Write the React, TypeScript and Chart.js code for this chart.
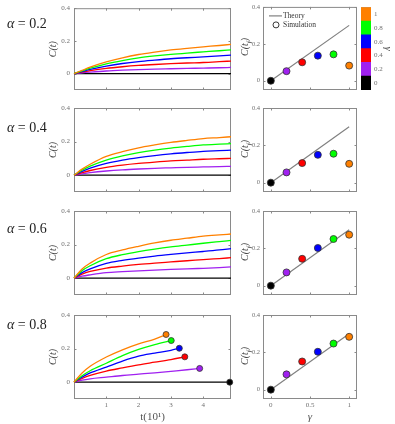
import React, { useEffect, useRef } from 'react';
import { Chart, registerables } from 'chart.js';

Chart.register(...registerables);

const PAGE_W = 395;
const PAGE_H = 424;

// ---------------- data ----------------
const gammaLabels = ['0', '0.2', '0.4', '0.6', '0.8', '1'];
const gammaValues = [0, 0.2, 0.4, 0.6, 0.8, 1];
const gammaColors = ['#000000', '#A020F0', '#FF0000', '#0000FF', '#00FF00', '#FF8000'];
const alphaLabels = ['0.2', '0.4', '0.6', '0.8'];

const timeTicks = [1, 2, 3, 4];
const gammaTicks = [0, 0.5, 1];
const cTicks = [0, 0.2, 0.4];
const legendLabels = ['Theory', 'Simulation'];

const tGrid = [0, 0.25, 0.5, 1, 1.5, 2, 2.5, 3, 3.5, 4, 4.5, 4.86];

// alpha = 0.2
const a02Black = [0, 0, 0, 0, 0, 0, 0, 0, 0, 0, 0, 0];
const a02Purple = [0, 0.005, 0.009, 0.016, 0.021, 0.025, 0.028, 0.03, 0.032, 0.034, 0.036, 0.038];
const a02Red = [0, 0.009, 0.018, 0.032, 0.042, 0.05, 0.056, 0.061, 0.065, 0.068, 0.073, 0.077];
const a02Blue = [0, 0.013, 0.026, 0.046, 0.062, 0.074, 0.083, 0.091, 0.097, 0.102, 0.108, 0.113];
const a02Green = [0, 0.017, 0.033, 0.06, 0.08, 0.096, 0.108, 0.118, 0.126, 0.133, 0.14, 0.145];
const a02Orange = [0, 0.02, 0.04, 0.072, 0.097, 0.117, 0.132, 0.145, 0.155, 0.164, 0.172, 0.179];

// alpha = 0.4
const a04Black = [0, 0, 0, 0, 0, 0, 0, 0, 0, 0, 0, 0];
const a04Purple = [0, 0.008, 0.015, 0.025, 0.032, 0.037, 0.041, 0.044, 0.047, 0.049, 0.051, 0.053];
const a04Red = [0, 0.015, 0.028, 0.047, 0.06, 0.07, 0.078, 0.085, 0.09, 0.095, 0.098, 0.1];
const a04Blue = [0, 0.023, 0.042, 0.07, 0.09, 0.105, 0.117, 0.127, 0.135, 0.142, 0.146, 0.149];
const a04Green = [0, 0.03, 0.054, 0.09, 0.115, 0.134, 0.149, 0.161, 0.171, 0.18, 0.185, 0.188];
const a04Orange = [0, 0.036, 0.065, 0.112, 0.14, 0.163, 0.18, 0.195, 0.207, 0.218, 0.224, 0.229];

// alpha = 0.6
const a06Black = [0, 0, 0, 0, 0, 0, 0, 0, 0, 0, 0, 0];
const a06Purple = [0, 0.012, 0.02, 0.033, 0.039, 0.044, 0.048, 0.052, 0.055, 0.059, 0.063, 0.067];
const a06Red = [0, 0.024, 0.04, 0.06, 0.072, 0.082, 0.09, 0.097, 0.104, 0.11, 0.117, 0.122];
const a06Blue = [0, 0.033, 0.055, 0.088, 0.106, 0.12, 0.132, 0.142, 0.151, 0.159, 0.168, 0.176];
const a06Green = [0, 0.045, 0.074, 0.116, 0.14, 0.158, 0.173, 0.186, 0.197, 0.208, 0.218, 0.225];
const a06Orange = [0, 0.055, 0.09, 0.141, 0.168, 0.19, 0.21, 0.226, 0.238, 0.25, 0.258, 0.263];

// alpha = 0.8 (each series stops at its own final time)
const a08BlackT = [0, 4.82];
const a08Black = [0, 0];
const a08PurpleT = [0, 0.25, 0.5, 1, 1.5, 2, 2.5, 3, 3.5, 3.89];
const a08Purple = [0, 0.012, 0.02, 0.03, 0.04, 0.048, 0.056, 0.065, 0.074, 0.082];
const a08RedT = [0, 0.25, 0.5, 1, 1.5, 2, 2.5, 3, 3.43];
const a08Red = [0, 0.022, 0.04, 0.066, 0.085, 0.103, 0.119, 0.135, 0.151];
const a08BlueT = [0, 0.25, 0.5, 1, 1.5, 2, 2.5, 3, 3.26];
const a08Blue = [0, 0.03, 0.055, 0.09, 0.126, 0.155, 0.173, 0.19, 0.202];
const a08GreenT = [0, 0.25, 0.5, 1, 1.5, 2, 2.5, 3.01];
const a08Green = [0, 0.038, 0.068, 0.113, 0.158, 0.195, 0.224, 0.248];
const a08OrangeT = [0, 0.25, 0.5, 1, 1.5, 2, 2.5, 2.85];
const a08Orange = [0, 0.055, 0.095, 0.15, 0.193, 0.228, 0.257, 0.284];

// simulation C(t_f) vs gamma for each alpha
const sim02 = [0, 0.052, 0.1, 0.136, 0.143, 0.082];
const sim04 = [0, 0.055, 0.105, 0.149, 0.155, 0.101];
const sim06 = [0, 0.071, 0.144, 0.202, 0.25, 0.273];
const sim08 = [0, 0.082, 0.151, 0.203, 0.247, 0.283];

const theoryGamma = [0, 1];
const theoryC = [0, 0.3];

// ---------------- layout ----------------
const rowTops = [6, 108, 211, 315];
const rowH = 84;
const leftBox = [74, 231];
const rightBox = [263, 357];
const cbarBox = [361, 371, 6, 90];
const alphaLabelY = [24, 128, 229, 325];

const FRAME = '#8a8a8a';
const TICKTXT = '#707070';
const SERIF = '"Liberation Serif", "DejaVu Serif", serif';

type Series = { t: number[]; c: number[]; color: string; end?: boolean };

const leftSeries: Series[][] = [
  [
    { t: tGrid, c: a02Orange, color: gammaColors[5] },
    { t: tGrid, c: a02Green, color: gammaColors[4] },
    { t: tGrid, c: a02Blue, color: gammaColors[3] },
    { t: tGrid, c: a02Red, color: gammaColors[2] },
    { t: tGrid, c: a02Purple, color: gammaColors[1] },
    { t: tGrid, c: a02Black, color: gammaColors[0] },
  ],
  [
    { t: tGrid, c: a04Orange, color: gammaColors[5] },
    { t: tGrid, c: a04Green, color: gammaColors[4] },
    { t: tGrid, c: a04Blue, color: gammaColors[3] },
    { t: tGrid, c: a04Red, color: gammaColors[2] },
    { t: tGrid, c: a04Purple, color: gammaColors[1] },
    { t: tGrid, c: a04Black, color: gammaColors[0] },
  ],
  [
    { t: tGrid, c: a06Orange, color: gammaColors[5] },
    { t: tGrid, c: a06Green, color: gammaColors[4] },
    { t: tGrid, c: a06Blue, color: gammaColors[3] },
    { t: tGrid, c: a06Red, color: gammaColors[2] },
    { t: tGrid, c: a06Purple, color: gammaColors[1] },
    { t: tGrid, c: a06Black, color: gammaColors[0] },
  ],
  [
    { t: a08OrangeT, c: a08Orange, color: gammaColors[5], end: true },
    { t: a08GreenT, c: a08Green, color: gammaColors[4], end: true },
    { t: a08BlueT, c: a08Blue, color: gammaColors[3], end: true },
    { t: a08RedT, c: a08Red, color: gammaColors[2], end: true },
    { t: a08PurpleT, c: a08Purple, color: gammaColors[1], end: true },
    { t: a08BlackT, c: a08Black, color: gammaColors[0], end: true },
  ],
];
const simSeries = [sim02, sim04, sim06, sim08];

// ---------------- plugins ----------------
const frameTicksPlugin = {
  id: 'frameTicks',
  beforeDatasetsDraw(chart: any) {
    const o = chart.options.plugins.frameTicks;
    if (!o) return;
    const { ctx, chartArea: a } = chart;
    ctx.save();
    ctx.strokeStyle = FRAME;
    ctx.lineWidth = 1;
    ctx.strokeRect(a.left + 0.5, a.top + 0.5, a.right - a.left - 1, a.bottom - a.top - 1);
    if (!o.noTicks) {
      const len = 2.5;
      ctx.beginPath();
      const xs = chart.scales.x;
      xs.ticks.forEach((t: any) => {
        const p = Math.round(xs.getPixelForValue(t.value)) + 0.5;
        ctx.moveTo(p, a.bottom);
        ctx.lineTo(p, a.bottom - len);
        ctx.moveTo(p, a.top);
        ctx.lineTo(p, a.top + len);
      });
      const ys = chart.scales.y;
      ys.ticks.forEach((t: any) => {
        const p = Math.round(ys.getPixelForValue(t.value)) + 0.5;
        ctx.moveTo(a.left, p);
        ctx.lineTo(a.left + len, p);
        ctx.moveTo(a.right, p);
        ctx.lineTo(a.right - len, p);
      });
      ctx.stroke();
    }
    ctx.restore();
  },
};

const innerLegendPlugin = {
  id: 'innerLegend',
  afterDatasetsDraw(chart: any) {
    const o = chart.options.plugins.innerLegend;
    if (!o || !o.show) return;
    const { ctx, chartArea: a } = chart;
    ctx.save();
    const y1 = a.top + 9;
    const y2 = a.top + 18;
    ctx.strokeStyle = '#808080';
    ctx.lineWidth = 1.2;
    ctx.beginPath();
    ctx.moveTo(a.left + 6, y1);
    ctx.lineTo(a.left + 19, y1);
    ctx.stroke();
    ctx.strokeStyle = '#222';
    ctx.lineWidth = 0.9;
    ctx.beginPath();
    ctx.arc(a.left + 13, y2, 3, 0, Math.PI * 2);
    ctx.stroke();
    ctx.fillStyle = '#333';
    ctx.font = '7.5px ' + SERIF;
    ctx.textBaseline = 'middle';
    ctx.fillText(legendLabels[0], a.left + 20, y1);
    ctx.fillText(legendLabels[1], a.left + 20, y2);
    ctx.restore();
  },
};

const tickFont = { family: SERIF, size: 7 };
const smallTickFont = { family: SERIF, size: 6.5 };
const noGrid = { display: false, drawTicks: false };

function baseOptions(x0: number, x1: number, y0: number, y1: number, xAxisH: number) {
  return {
    responsive: false,
    animation: false as const,
    devicePixelRatio: 1,
    events: [] as any[],
    layout: { padding: { left: 0, top: y0, right: PAGE_W - x1, bottom: PAGE_H - y1 - xAxisH } },
  };
}

function leftConfig(row: number) {
  const y0 = rowTops[row];
  const y1 = y0 + rowH;
  const bottom = row === 3;
  const xAxisH = bottom ? PAGE_H - y1 : 0;
  return {
    type: 'scatter',
    data: {
      datasets: leftSeries[row].map((s) => ({
        data: s.t.map((t, i) => ({ x: t, y: s.c[i] })),
        showLine: true,
        borderColor: s.color,
        backgroundColor: s.color,
        borderWidth: 1.3,
        cubicInterpolationMode: 'monotone',
        pointRadius: s.end ? (ctx: any) => (ctx.dataIndex === s.t.length - 1 ? 3 : 0) : 0,
        pointBorderColor: '#333',
        pointBorderWidth: 0.8,
        pointBackgroundColor: s.color,
        clip: false,
      })),
    },
    options: {
      ...baseOptions(leftBox[0], leftBox[1], y0, y1, xAxisH),
      plugins: { legend: { display: false }, tooltip: { enabled: false }, frameTicks: {} },
      scales: {
        x: {
          type: 'linear',
          min: 0,
          max: 4.86,
          afterBuildTicks: (s: any) => {
            s.ticks = timeTicks.map((v) => ({ value: v }));
          },
          afterFit: (s: any) => {
            s.height = xAxisH;
          },
          ticks: { display: bottom, font: tickFont, color: TICKTXT, padding: 2, callback: (v: any) => String(v) },
          grid: noGrid,
          border: { display: false },
          title: {
            display: bottom,
            text: 't(10¹)',
            font: { family: SERIF, size: 11 },
            color: '#555',
            padding: { top: 0, bottom: 0.4 },
          },
        },
        y: {
          type: 'linear',
          min: -0.1,
          max: 0.4,
          afterBuildTicks: (s: any) => {
            s.ticks = cTicks.map((v) => ({ value: v }));
          },
          afterFit: (s: any) => {
            s.width = leftBox[0];
          },
          ticks: { font: tickFont, color: TICKTXT, padding: 4, callback: (v: any) => String(v) },
          grid: noGrid,
          border: { display: false },
          title: {
            display: true,
            text: 'C(t)',
            font: { family: SERIF, size: 10, style: 'italic' },
            color: '#444',
            padding: { top: 47, bottom: 0 },
          },
        },
      },
    },
    plugins: [frameTicksPlugin],
  };
}

function rightConfig(row: number) {
  const y0 = rowTops[row];
  const y1 = y0 + rowH;
  const bottom = row === 3;
  const xAxisH = bottom ? PAGE_H - y1 : 0;
  const sim = simSeries[row];
  return {
    type: 'scatter',
    data: {
      datasets: [
        {
          data: gammaValues.map((g, i) => ({ x: g, y: sim[i] })),
          pointRadius: 3.5,
          pointBackgroundColor: gammaColors,
          pointBorderColor: '#333',
          pointBorderWidth: 0.8,
          clip: false,
        },
        {
          data: theoryGamma.map((g, i) => ({ x: g, y: theoryC[i] })),
          showLine: true,
          borderColor: '#808080',
          borderWidth: 1.2,
          pointRadius: 0,
        },
      ],
    },
    options: {
      ...baseOptions(rightBox[0], rightBox[1], y0, y1, xAxisH),
      plugins: {
        legend: { display: false },
        tooltip: { enabled: false },
        frameTicks: {},
        innerLegend: { show: row === 0 },
      },
      scales: {
        x: {
          type: 'linear',
          min: -0.1,
          max: 1.1,
          afterBuildTicks: (s: any) => {
            s.ticks = gammaTicks.map((v) => ({ value: v }));
          },
          afterFit: (s: any) => {
            s.height = xAxisH;
          },
          ticks: { display: bottom, font: tickFont, color: TICKTXT, padding: 2, callback: (v: any) => String(v) },
          grid: noGrid,
          border: { display: false },
          title: {
            display: bottom,
            text: 'γ',
            font: { family: SERIF, size: 11, style: 'italic' },
            color: '#555',
            padding: { top: 0, bottom: 0.4 },
          },
        },
        y: {
          type: 'linear',
          min: -0.05,
          max: 0.4,
          afterBuildTicks: (s: any) => {
            s.ticks = cTicks.map((v) => ({ value: v }));
          },
          afterFit: (s: any) => {
            s.width = rightBox[0];
          },
          ticks: { font: smallTickFont, color: TICKTXT, padding: 3, callback: (v: any) => String(v) },
          grid: noGrid,
          border: { display: false },
        },
      },
    },
    plugins: [frameTicksPlugin, innerLegendPlugin],
  };
}

function colorbarConfig() {
  const [x0, x1, y0, y1] = cbarBox;
  return {
    type: 'bar',
    data: {
      labels: [''],
      datasets: gammaColors.map((c, i) => ({
        label: gammaLabels[i],
        data: [1],
        backgroundColor: c,
        borderWidth: 0,
        barPercentage: 1,
        categoryPercentage: 1,
      })),
    },
    options: {
      responsive: false,
      animation: false as const,
      devicePixelRatio: 1,
      events: [] as any[],
      layout: { padding: { left: x0, right: 0, top: y0, bottom: PAGE_H - y1 } },
      plugins: { legend: { display: false }, tooltip: { enabled: false }, frameTicks: { noTicks: true } },
      scales: {
        x: { display: false, stacked: true },
        y: {
          position: 'right',
          stacked: true,
          min: 0,
          max: gammaLabels.length,
          afterBuildTicks: (s: any) => {
            s.ticks = gammaLabels.map((_, i) => ({ value: i + 0.5 }));
          },
          afterFit: (s: any) => {
            s.width = PAGE_W - x1;
          },
          ticks: { font: tickFont, color: TICKTXT, padding: 3, callback: (_v: any, i: number) => gammaLabels[i] },
          grid: noGrid,
          border: { display: false },
          title: {
            display: true,
            text: 'γ',
            font: { family: SERIF, size: 11, style: 'italic' },
            color: '#555',
            padding: { top: 0.5, bottom: 0 },
          },
        },
      },
    },
    plugins: [frameTicksPlugin],
  };
}

function ChartCanvas({ make }: { make: () => any }) {
  const ref = useRef<HTMLCanvasElement>(null);
  useEffect(() => {
    const chart = new Chart(ref.current as HTMLCanvasElement, make());
    return () => chart.destroy();
  }, []);
  return (
    <canvas
      ref={ref}
      width={PAGE_W}
      height={PAGE_H}
      style={{ position: 'absolute', left: 0, top: 0, width: PAGE_W, height: PAGE_H, pointerEvents: 'none' }}
    />
  );
}

const makers: (() => any)[] = [
  ...rowTops.map((_, r) => () => leftConfig(r)),
  ...rowTops.map((_, r) => () => rightConfig(r)),
  () => colorbarConfig(),
];

export default function App() {
  return (
    <div
      style={{
        position: 'absolute',
        left: 0,
        top: 0,
        width: PAGE_W,
        height: PAGE_H,
        background: '#fff',
        overflow: 'hidden',
      }}
    >
      {makers.map((m, i) => (
        <ChartCanvas key={i} make={m} />
      ))}
      {alphaLabels.map((a, r) => (
        <div
          key={'a' + r}
          style={{
            position: 'absolute',
            left: 7,
            top: alphaLabelY[r] - 8,
            height: 16,
            lineHeight: '16px',
            font: '14px ' + SERIF,
            color: '#222',
            whiteSpace: 'nowrap',
          }}
        >
          <i>α</i> = {a}
        </div>
      ))}
      {rowTops.map((t, r) => (
        <div
          key={'l' + r}
          style={{
            position: 'absolute',
            left: 245,
            top: t + 41,
            transform: 'translate(-50%, -50%) rotate(-90deg)',
            font: 'italic 10px ' + SERIF,
            color: '#444',
            whiteSpace: 'nowrap',
            lineHeight: '12px',
          }}
        >
          C(t<sub style={{ fontSize: '7px', lineHeight: 0 }}>f</sub>)
        </div>
      ))}
    </div>
  );
}
